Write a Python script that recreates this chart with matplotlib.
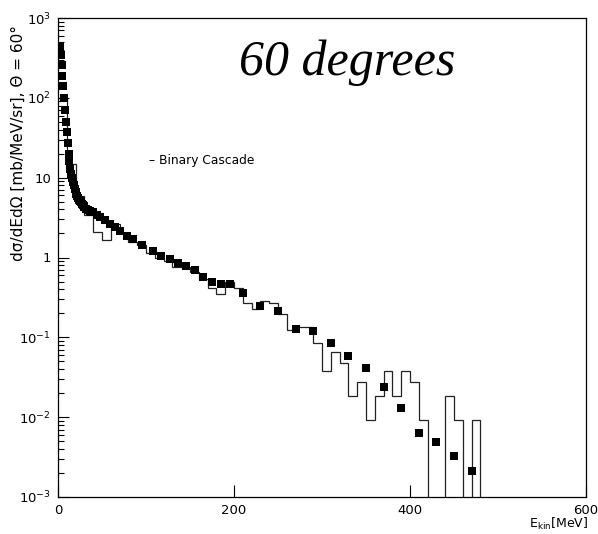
import numpy as np
import matplotlib
matplotlib.use("Agg")
import matplotlib.pyplot as plt
from matplotlib.ticker import FixedLocator, LogLocator, NullFormatter, FixedFormatter

# ---- data: measured points ----
data_E = [2, 3, 4, 5, 6, 7, 8, 9, 10, 11, 12, 13, 14, 15, 16, 17, 18, 19, 20,
          21, 22, 23, 24, 25, 26, 27, 28, 29, 30, 32, 34, 36, 38, 40, 44, 48,
          53, 59, 65, 71, 78, 85, 96, 108, 117, 127, 136, 145, 156,
          165, 175, 185, 195, 210, 230, 250, 270, 290, 310, 330, 350, 370,
          390, 410, 430, 450, 470]
data_v = [450, 340, 260, 190, 140, 100, 70, 50, 37, 27, 20, 16, 13, 11, 9.8,
          8.8, 8.0, 7.3, 6.7, 6.3, 5.9, 5.6, 5.3, 5.1, 4.9, 4.7, 4.55, 4.4,
          4.3, 4.1, 3.95, 3.85, 3.75, 3.7, 3.45, 3.24, 2.94, 2.6, 2.38, 2.14,
          1.85, 1.69, 1.43, 1.20, 1.04, 0.95, 0.85, 0.78, 0.70,
          0.573, 0.496, 0.464, 0.464, 0.355, 0.248, 0.213, 0.127, 0.121,
          0.084, 0.058, 0.0408, 0.024, 0.013, 0.0063, 0.00486, 0.00327, 0.0021]

# ---- data: Binary Cascade histogram (10 MeV bins) ----
bin_edges = list(range(0, 610, 10))
bin_vals = [100, 15, 5.9, 3.4, 2.1, 1.65, 2.6, 2.0, 1.55, 1.45,
            1.15, 1.0, 0.9, 0.75, 0.75, 0.65, 0.532, 0.41, 0.345, 0.496,
            0.417, 0.27, 0.225, 0.287, 0.27, 0.195, 0.123, 0.135, 0.135, 0.084,
            0.0377, 0.0658, 0.0471, 0.0185, 0.0277, 0.0093, 0.0185, 0.0377, 0.0185, 0.0377,
            0.0277, 0.0093, 0, 0, 0.0185, 0.0093, 0, 0.0093, 0, 0,
            0, 0, 0, 0, 0, 0, 0, 0, 0, 0]

y_ticks = [1e-3, 1e-2, 1e-1, 1, 10, 1e2, 1e3]
y_ticklabels = [r'$\mathregular{10^{-3}}$', r'$\mathregular{10^{-2}}$',
                r'$\mathregular{10^{-1}}$', '1', '10',
                r'$\mathregular{10^{2}}$', r'$\mathregular{10^{3}}$']
x_ticks = [0, 200, 400, 600]
x_ticklabels = ['0', '200', '400', '600']

W, H = 598, 534
fig = plt.figure(figsize=(W / 100, H / 100), dpi=100)
ax = fig.add_axes([58 / W, 1 - 497 / H, (586 - 58) / W, (497 - 18) / H])

vals = np.array(bin_vals, dtype=float)
vals_plot = np.where(vals > 0, vals, 1e-6)
ax.stairs(vals_plot, bin_edges, baseline=None, color='#222222', lw=0.9)
ax.plot(data_E, data_v, 's', color='black', ms=5.4, mec='black', mew=0)

ax.set_yscale('log')
ax.set_xlim(0, 600)
ax.set_ylim(1e-3, 1e3)
ax.yaxis.set_major_locator(FixedLocator(y_ticks))
ax.yaxis.set_major_formatter(FixedFormatter(y_ticklabels))
ax.yaxis.set_minor_locator(LogLocator(base=10, subs=np.arange(2, 10), numticks=20))
ax.yaxis.set_minor_formatter(NullFormatter())
ax.xaxis.set_major_locator(FixedLocator(x_ticks))
ax.xaxis.set_major_formatter(FixedFormatter(x_ticklabels))
ax.tick_params(axis='both', which='both', direction='in', top=False, right=False,
               labelsize=9.5, width=0.8)
ax.tick_params(axis='y', which='major', length=8, pad=5)
ax.tick_params(axis='y', which='minor', length=4)
ax.tick_params(axis='x', which='major', length=9, pad=5)
for s in ax.spines.values():
    s.set_linewidth(0.9)

fig.text(18 / W, 1 - 143 / H, 'dσ/dEdΩ [mb/MeV/sr], Θ = 60°', rotation=90,
         ha='center', va='center', fontsize=11)
fig.text(588 / W, 1 - 524 / H, r'E$_{\mathregular{kin}}$[MeV]', ha='right',
         va='center', fontsize=9)
fig.text(149 / W, 1 - 160 / H, '– Binary Cascade', ha='left', va='center', fontsize=8.8)
fig.text(347 / W, 1 - 75 / H, '60 degrees', ha='center', va='baseline',
         fontsize=36, family='Liberation Serif', style='italic')

fig.savefig('out.png', dpi=100)
